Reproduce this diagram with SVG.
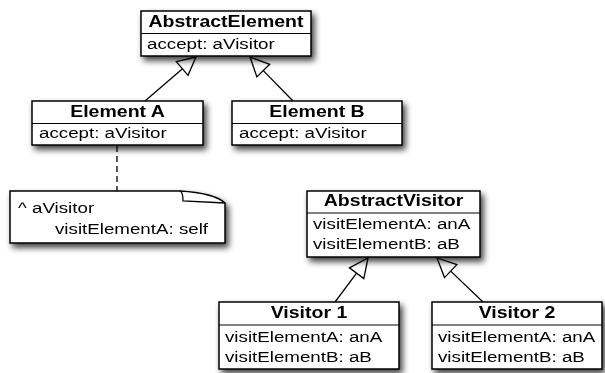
<svg xmlns="http://www.w3.org/2000/svg" width="605" height="373" viewBox="0 0 605 373">
<defs>
<filter id="sh" x="-10%" y="-20%" width="125%" height="150%">
<feGaussianBlur in="SourceAlpha" stdDeviation="3"/>
<feOffset dx="3" dy="4" result="b"/>
<feComponentTransfer><feFuncA type="linear" slope="0.75"/></feComponentTransfer>
<feMerge><feMergeNode/><feMergeNode in="SourceGraphic"/></feMerge>
</filter>
<style>
.box{fill:#fff;stroke:#000;stroke-width:1.5}
.div{stroke:#000;stroke-width:1}
.t{font-family:"Liberation Sans",Arial,sans-serif;font-size:16px;font-weight:bold;text-anchor:middle;fill:#000}
.a{font-family:"Liberation Sans",Arial,sans-serif;font-size:15.5px;fill:#000}
.ln{stroke:#000;stroke-width:1.3;fill:none}
.tri{fill:#fff;stroke:#000;stroke-width:1.3}
.dash{stroke:#000;stroke-width:1.3;stroke-dasharray:6,4;fill:none}
</style>
</defs>
<rect width="605" height="373" fill="#fff"/>

<g id="connectors">
<line class="ln" x1="145" y1="101" x2="182.2" y2="69"/>
<polygon class="tri" points="196,57 188,75.3 176.3,61.7"/>
<line class="ln" x1="293" y1="101" x2="263.3" y2="70.6"/>
<polygon class="tri" points="250,57 269.7,64.3 256.9,76.9"/>
<line class="ln" x1="335" y1="302" x2="356.6" y2="273.2"/>
<polygon class="tri" points="368,258 363.8,278.6 349.4,267.8"/>
<line class="ln" x1="483" y1="302" x2="450.7" y2="271.1"/>
<polygon class="tri" points="437,258 456.9,264.6 444.5,277.6"/>
<line class="dash" x1="117" y1="146" x2="117" y2="191"/>
</g>

<g id="AbstractElement" filter="url(#sh)">
<rect class="box" x="141" y="11" width="170" height="45"/>
<line class="div" x1="141" y1="33.5" x2="311" y2="33.5"/>
<text class="t" transform="translate(226,27) scale(1.22,1)">AbstractElement</text>
<text class="a" transform="translate(147,49) scale(1.21,1)">accept: aVisitor</text>
</g>

<g id="ElementA" filter="url(#sh)">
<rect class="box" x="32" y="101" width="171" height="44"/>
<line class="div" x1="32" y1="123.5" x2="203" y2="123.5"/>
<text class="t" transform="translate(117.5,117) scale(1.22,1)">Element A</text>
<text class="a" transform="translate(39,138) scale(1.21,1)">accept: aVisitor</text>
</g>

<g id="ElementB" filter="url(#sh)">
<rect class="box" x="232" y="101" width="170" height="44"/>
<line class="div" x1="232" y1="123.5" x2="402" y2="123.5"/>
<text class="t" transform="translate(317,117) scale(1.22,1)">Element B</text>
<text class="a" transform="translate(239,138) scale(1.21,1)">accept: aVisitor</text>
</g>

<g id="Note" filter="url(#sh)">
<path class="box" d="M10,191 H180 Q214,193 225,203 V243 H10 Z"/>
<path class="ln" d="M180,191 Q183,192 183,201 L225,203"/>
<text class="a" transform="translate(18,213) scale(1.21,1)">^ aVisitor</text>
<text class="a" transform="translate(55,234) scale(1.21,1)">visitElementA: self</text>
</g>

<g id="AbstractVisitor" filter="url(#sh)">
<rect class="box" x="307" y="191" width="173" height="66"/>
<line class="div" x1="307" y1="213" x2="480" y2="213"/>
<text class="t" transform="translate(393.5,206) scale(1.22,1)">AbstractVisitor</text>
<text class="a" transform="translate(313,228.5) scale(1.21,1)">visitElementA: anA</text>
<text class="a" transform="translate(313,248.5) scale(1.21,1)">visitElementB: aB</text>
</g>

<g id="Visitor1" filter="url(#sh)">
<rect class="box" x="219" y="302" width="180" height="67"/>
<line class="div" x1="219" y1="325" x2="399" y2="325"/>
<text class="t" transform="translate(309,318) scale(1.22,1)">Visitor 1</text>
<text class="a" transform="translate(225,341.5) scale(1.21,1)">visitElementA: anA</text>
<text class="a" transform="translate(225,361.5) scale(1.21,1)">visitElementB: aB</text>
</g>

<g id="Visitor2" filter="url(#sh)">
<rect class="box" x="432" y="302" width="170" height="67"/>
<line class="div" x1="432" y1="325" x2="602" y2="325"/>
<text class="t" transform="translate(517,318) scale(1.22,1)">Visitor 2</text>
<text class="a" transform="translate(438,341.5) scale(1.21,1)">visitElementA: anA</text>
<text class="a" transform="translate(438,361.5) scale(1.21,1)">visitElementB: aB</text>
</g>
</svg>
